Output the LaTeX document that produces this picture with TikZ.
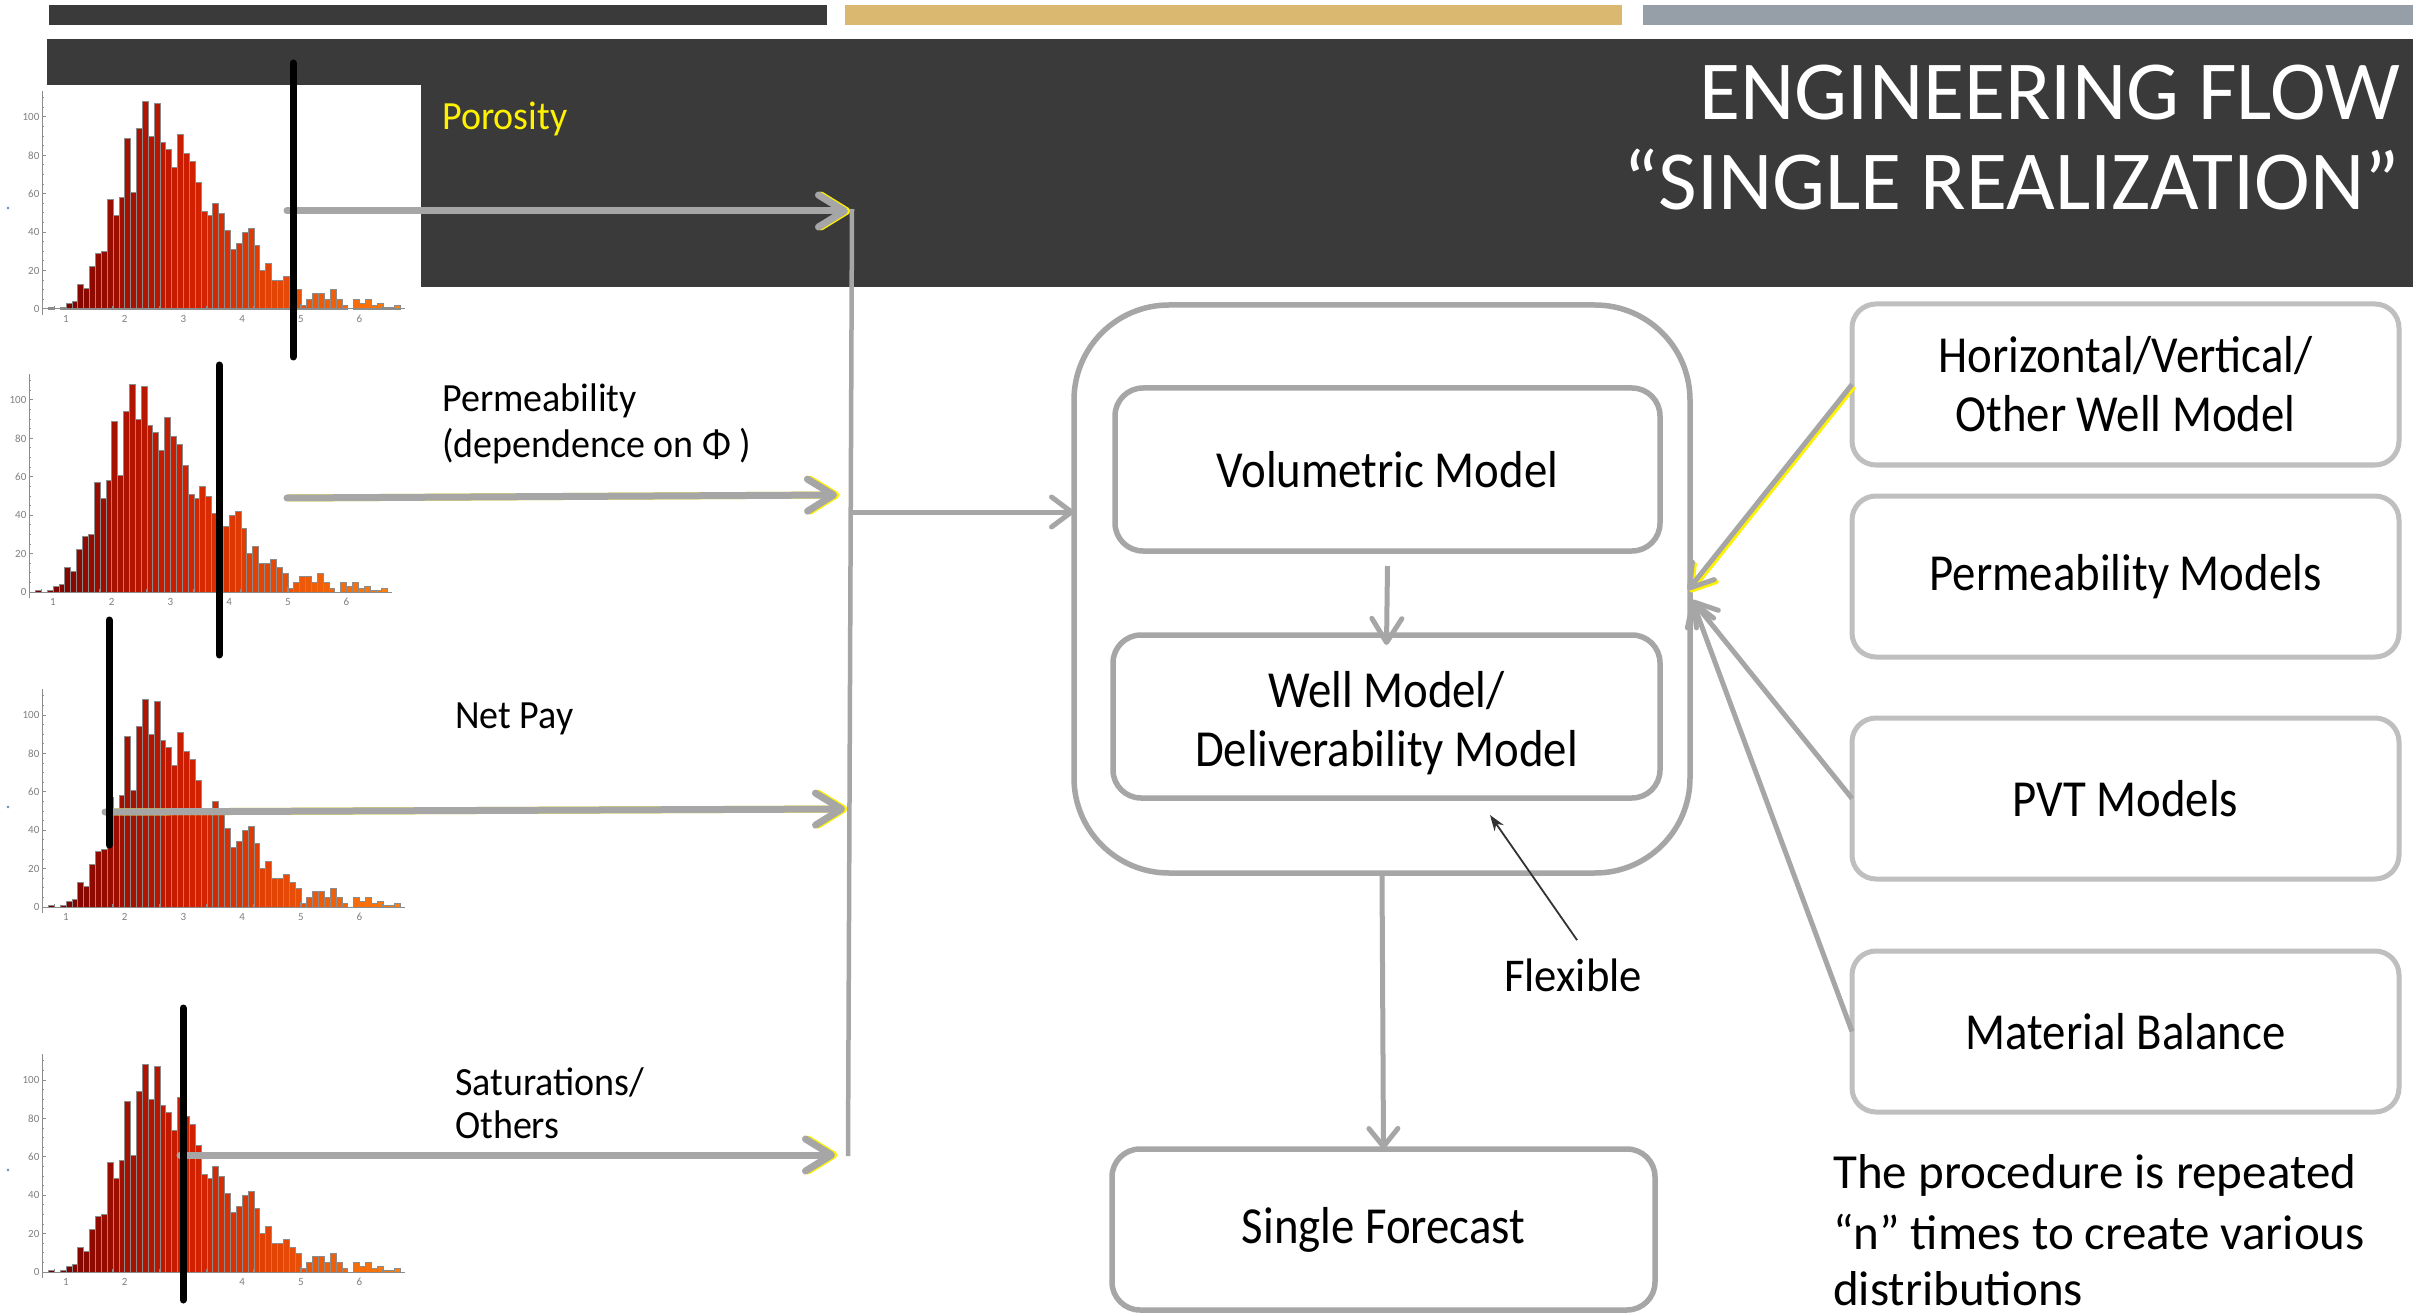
\documentclass[tikz,border=0pt]{standalone}
\usepackage{fontspec}
\setmainfont{Carlito}
\newfontfamily\boxfont[FakeStretch=0.9]{Carlito}
\newfontfamily\labfont[FakeStretch=0.95]{Carlito}
\usetikzlibrary{arrows.meta}
\definecolor{band}{HTML}{3A3A3A}
\definecolor{gold}{HTML}{DBB86F}
\definecolor{slate}{HTML}{969EA8}
\definecolor{lgray}{HTML}{A6A6A6}
\definecolor{vlgray}{HTML}{BFBFBF}
\definecolor{flexc}{HTML}{333333}
\definecolor{hA}{rgb}{0.45,0,0}
\definecolor{hB}{rgb}{0.82,0.12,0}
\definecolor{hC}{rgb}{1,0.5,0.05}
\definecolor{dotc}{HTML}{5B8DB8}
\def\histdata{1,0,1,3,4,13,11,22,29,30,57,49,58,89,61,94,108,90,107,87,83,74,91,81,77,66,51,49,55,50,41,31,34,40,42,33,20,24,15,15,17,13,10,2,5,8,8,5,10,5,2,0,5,3,5,2,3,1,1,2}
\newcommand\myhist[2]{%
\begin{scope}[shift={(#1-58.7,#2)},x=58.7pt,y=1.92pt]
 \foreach \c [count=\i from 0] in \histdata {%
  \ifnum\c>0
   \ifnum\i<24
    \pgfmathtruncatemacro\p{\i*100/24}\colorlet{barc}{hB!\p!hA}%
   \else
    \pgfmathtruncatemacro\p{(\i-24)*100/35}\colorlet{barc}{hC!\p!hB}%
   \fi
   \filldraw[fill=barc,draw=black!45,line width=0.6pt] ({0.7+0.1*\i},0) rectangle ({0.8+0.1*\i},\c);
  \fi
 }
 \draw[axisc] (0.6,-3) -- (0.6,113.5);
 \draw[axisc] (0.6,0) -- (6.78,0);
 \foreach \v in {0,20,...,100} {
  \draw[axisc] (0.6,\v) -- (0.66,\v);
  \node[ticklab,anchor=east] at (0.55,\v) {\v};
 }
 \foreach \v in {5,10,...,110} \draw[axisc] (0.6,\v) -- (0.63,\v);
 \foreach \v in {1,...,6} {
  \draw[axisc] (\v,0) -- (\v,2.5);
  \node[ticklab,anchor=north] at (\v,-3) {\v};
 }
 \foreach \v in {0.8,1.2,1.4,1.6,1.8,2.2,2.4,2.6,2.8,3.2,3.4,3.6,3.8,4.2,4.4,4.6,4.8,5.2,5.4,5.6,5.8,6.2,6.4,6.6} \draw[axisc] (\v,0) -- (\v,1.5);
\end{scope}}
\begin{document}
\begin{tikzpicture}[x=1pt,y=-1pt,
  axisc/.style={draw=black!45,line width=1pt},
  ticklab/.style={font=\fontsize{11}{12}\selectfont,text=black!50,inner sep=0pt},
  lab/.style={font=\labfont\fontsize{40}{45}\selectfont,inner sep=0pt,anchor=base west},
  maintxt/.style={font=\boxfont\fontsize{52}{59}\selectfont,align=center},
  inbox/.style={draw=lgray,line width=5.5pt,rounded corners=28pt,fill=white,inner sep=0pt,outer sep=0pt,maintxt},
  sidebox/.style={draw=vlgray,line width=5pt,rounded corners=24pt,fill=white,inner sep=0pt,outer sep=0pt,maintxt,minimum width=547pt,minimum height=161pt},
  feed/.style={lgray,line width=7pt,line cap=round,-{Straight Barb[length=26pt,width=32pt,round]}},
  feedy/.style={yellow,line width=7pt,line cap=round,-{Straight Barb[length=26pt,width=32pt,round]}},
  conn/.style={lgray,line width=5pt,-{Straight Barb[length=20pt,width=30pt,round]}},
  marker/.style={black,line width=7pt,line cap=round}]
\useasboundingbox (0,0) rectangle (2413,1313);
\fill[white] (0,0) rectangle (2413,1313);
% top bars
\fill[band] (49,5) rectangle (827,25);
\fill[gold] (845,5) rectangle (1622,25);
\fill[slate] (1643,5) rectangle (2413,25);
% header band
\fill[band] (47,39) rectangle (2413,287);
\fill[white] (47,85) rectangle (421,287);
\node[anchor=base east,text=white,inner sep=0pt,font=\fontsize{84}{90}\selectfont] (t1) at (2400,120) {ENGINEERING FLOW};
\node[anchor=base east,text=white,inner sep=0pt,font=\fontsize{84}{90}\selectfont] (t2) at (2400,210) {“SINGLE REALIZATION”};
% histograms
\myhist{66}{309}
\myhist{53}{592}
\myhist{66}{907}
\myhist{66}{1272}
\fill[dotc] (8,208) circle (1.3);
\fill[dotc] (8,807) circle (1.3);
\fill[dotc] (8,1170) circle (1.3);
% labels
\node[lab,text=yellow] (lpor) at (442,130) {Porosity};
\node[lab] (lperm1) at (442,412) {Permeability};
\node[lab] (lperm2) at (442,457) {(dependence on Φ )};
\node[lab] (lnet) at (455,728) {Net Pay};
\node[lab] (lsat1) at (455,1095) {Saturations/};
\node[lab] (lsat2) at (455,1138) {Others};
% feed arrows
\coordinate (s1) at (287,211); \coordinate (e1) at (848,211);
\coordinate (s2) at (287,498); \coordinate (e2) at (837,495);
\coordinate (s3) at (105,812); \coordinate (e3) at (845,809);
\coordinate (s4) at (180,1155); \coordinate (e4) at (835,1155);
\foreach \k in {1,2,3,4} {
  \draw[feedy,transform canvas={xshift=2.5pt}] (s\k) -- (e\k);
  \draw[feed] (s\k) -- (e\k);
}
% markers
\draw[marker] (293,63) -- (293,357);
\draw[marker] (219,365) -- (219,655);
\draw[marker] (109,620) -- (109,845);
\draw[marker] (183,1008) -- (183,1300);
% collector
\coordinate (ctop) at (852,209);
\coordinate (cbot) at (848,1156);
\coordinate (cj) at (852,512);
\draw[lgray,line width=4.5pt] (ctop) -- (cbot);
% main boxes
\node[inbox,rounded corners=95pt,minimum width=616pt,minimum height=568pt,fill=none] (big) at (1382,589) {};
\node[inbox,minimum width=545pt,minimum height=163pt] (vol) at (1387.5,469.5) {Volumetric Model};
\node[inbox,minimum width=547pt,minimum height=163pt] (well) at (1386.5,716.5) {\rule{0pt}{49pt}Well Model/\\Deliverability Model};
\node[inbox,minimum width=543pt,minimum height=161pt] (single) at (1383.5,1229.5) {Single Forecast};
\draw[conn] (cj) -- (cj -| big.west);
\draw[conn,-{Straight Barb[length=24pt,width=30pt,round]}] ([yshift=-15pt]vol.south) -- ([yshift=-10pt]well.north);
\draw[conn,-{Straight Barb[length=18pt,width=29pt,round]}] (big.south) -- (single.north);
% side boxes
\node[sidebox] (hv) at (2125.5,384.5) {Horizontal/Vertical/\\Other Well Model};
\node[sidebox] (perm) at (2125.5,576.5) {Permeability Models};
\node[sidebox] (pvt) at (2125.5,798.5) {PVT Models};
\node[sidebox] (mb) at (2125.5,1031.5) {Material Balance};
\coordinate (in1) at (1688,590);
\coordinate (in2) at (1692,600);
\draw[conn,yellow,line width=5pt,transform canvas={xshift=2pt,yshift=-2pt},-{Straight Barb[length=22pt,width=28pt,round]}] (hv.west) -- (in1);
\draw[conn,-{Straight Barb[length=22pt,width=28pt,round]}] (hv.west) -- (in1);
\draw[conn,-{Straight Barb[length=22pt,width=28pt,round]}] (pvt.west) -- (in2);
\draw[conn,-{Straight Barb[length=22pt,width=28pt,round]}] (mb.west) -- (in2);
% flexible
\node[lab,font=\labfont\fontsize{47}{52}\selectfont] (flex) at (1504,991) {Flexible};
\coordinate (fx) at (1490,815);
\draw[flexc,line width=1.8pt,-{Stealth[length=16pt,width=11pt]}] ([xshift=4pt,yshift=18pt]flex.north) -- (fx);
% procedure note
\node[lab,font=\fontsize{49}{52}\selectfont] (n1) at (1833,1188) {The procedure is repeated};
\node[lab,font=\fontsize{49}{52}\selectfont] (n2) at (1833,1249) {“n” times to create various};
\node[lab,font=\fontsize{49}{52}\selectfont,text depth=0pt] (n3) at (1833,1305) {distributions};
\end{tikzpicture}
\end{document}
